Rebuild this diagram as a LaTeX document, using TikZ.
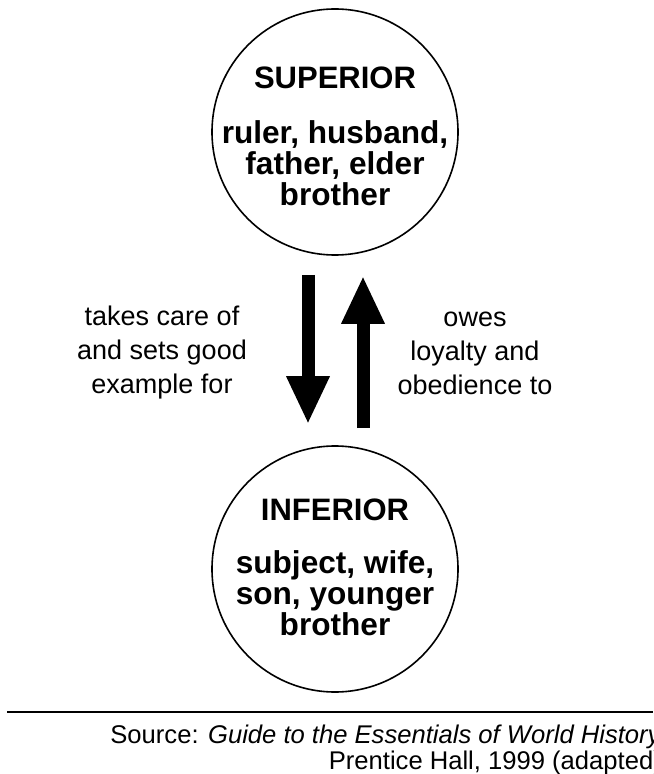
\documentclass[tikz,border=0pt]{standalone}
\usepackage{fontspec}
\setmainfont{Liberation Sans}
\usetikzlibrary{arrows.meta,positioning}

\begin{document}
\begin{tikzpicture}[x=0.5pt,y=-0.5pt,
  ring/.style={circle, draw, line width=0.8pt, minimum size=123pt, inner sep=0pt},
  rank/.style={font=\fontsize{15.5}{15.5}\selectfont\bfseries},
  who/.style={align=center, font=\fontsize{15.8}{15.5}\selectfont\bfseries},
  duty/.style={align=center, font=\fontsize{13.5}{17}\selectfont},
  src/.style={align=right, inner sep=0pt, font=\fontsize{12.8}{13}\selectfont},
  bigarrow/.style={line width=6.5pt, -{Triangle[width=20pt,length=24pt]}}]
  \useasboundingbox (0,0) rectangle (653,774);
  \node [ring] (sup) at (335,132) {};
  \node [ring] (inf) at (335,569) {};
  \node [rank] (suprank) at (335,78) {SUPERIOR};
  \node [who] (supwho) at (335,163) {ruler, husband,\\ father, elder\\ brother};
  \node [rank] (infrank) at (335,510) {INFERIOR};
  \node [who] (infwho) at (335,593) {subject, wife,\\ son, younger\\ brother};
  \node [duty] (care) at (162,353) {takes care of\\ and sets good\\ example for};
  \node [duty] (loyal) at (475,353) {owes\\ loyalty and\\ obedience to};
  \draw [bigarrow, shorten <=9.5pt, shorten >=10.5pt] ([xshift=-13.5pt]sup.south) -- ([xshift=-13.5pt]inf.north);
  \draw [bigarrow, shorten <=8.5pt, shorten >=10pt] ([xshift=14pt]inf.north) -- ([xshift=14pt]sup.south);
  \coordinate (ruleL) at (7,712);
  \coordinate (ruleR) at (653,712);
  \draw [line width=0.6pt] (ruleL) -- (ruleR);
  \node [src, anchor=west] (source) at (110,750) {Source: \textit{Guide to the Essentials of World History}\\ Prentice Hall, 1999 (adapted)};
\end{tikzpicture}
\end{document}
